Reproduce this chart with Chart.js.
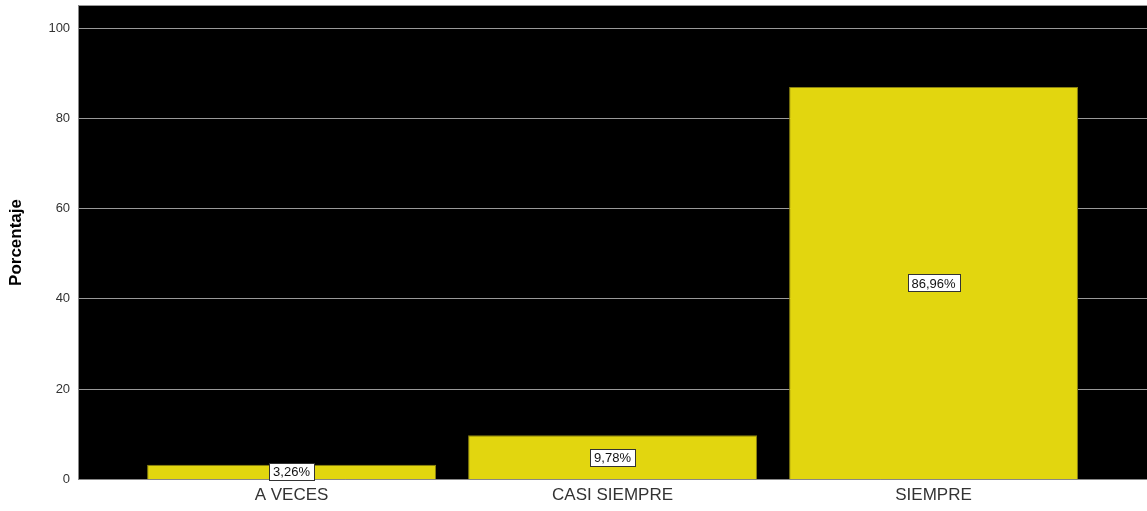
<!DOCTYPE html>
<html>
<head>
<meta charset="utf-8">
<script src="https://cdn.jsdelivr.net/npm/chart.js@4/dist/chart.umd.min.js"></script>
<style>
  html, body { margin: 0; padding: 0; background: #fff; overflow: hidden; }
  #wrap { width: 1147px; height: 516px; margin-top: -5px; }
</style>
</head>
<body>
<div id="wrap"><canvas id="chart"></canvas></div>
<script>
// data
var categories = ["A VECES", "CASI SIEMPRE", "SIEMPRE"];
var percentages = [3.26, 9.78, 86.96];
var yTicks = [0, 20, 40, 60, 80, 100];

// black plot background
var plotBackground = {
  id: "plotBackground",
  beforeDraw: function (chart) {
    var a = chart.chartArea;
    var ctx = chart.ctx;
    ctx.save();
    ctx.fillStyle = "#000";
    ctx.fillRect(a.left, a.top, a.right - a.left, a.bottom - a.top);
    ctx.restore();
  }
};

// boxed value labels in middle of bars
var boxLabels = {
  id: "boxLabels",
  afterDatasetsDraw: function (chart) {
    var ctx = chart.ctx;
    var meta = chart.getDatasetMeta(0);
    ctx.save();
    ctx.font = "13px 'Liberation Sans', Arial, sans-serif";
    ctx.textAlign = "center";
    ctx.textBaseline = "middle";
    meta.data.forEach(function (bar, i) {
      var txt = percentages[i].toFixed(2).replace(".", ",") + "%";
      var cy = (bar.y + bar.base) / 2;
      var w = Math.round(ctx.measureText(txt).width + 8);
      var h = 17;
      var x0 = Math.round(bar.x - w / 2);
      var y0 = Math.round(cy - h / 2);
      ctx.fillStyle = "#fff";
      ctx.fillRect(x0, y0, w, h);
      ctx.strokeStyle = "#333";
      ctx.lineWidth = 1;
      ctx.strokeRect(x0 + 0.5, y0 + 0.5, w, h);
      ctx.fillStyle = "#111";
      ctx.fillText(txt, bar.x, cy + 1);
    });
    ctx.restore();
  }
};

const ctx = document.getElementById("chart").getContext("2d");

const chart = new Chart(ctx, {
  type: "bar",
  data: {
    datasets: [
      {
        data: categories.map(function (c, i) {
          return { x: i, y: percentages[i] };
        }),
        backgroundColor: "#E2D60F",
        borderColor: "#8A8210",
        borderWidth: 1,
        barPercentage: 0.9,
        categoryPercentage: 1.0,
      },
    ],
  },
  options: {
    responsive: true,
    maintainAspectRatio: false,
    animation: false,
    layout: { padding: { top: 0, right: 0, left: 0, bottom: 0 } },
    plugins: {
      legend: { display: false },
      tooltip: { enabled: false },
    },
    scales: {
      x: {
        type: "linear",
        offset: false,
        min: -0.665,
        max: 2.665,
        afterBuildTicks: function (scale) {
          scale.ticks = categories.map(function (c, i) {
            return { value: i };
          });
        },
        grid: { display: false, drawTicks: false },
        border: { color: "#888", width: 1 },
        ticks: {
          padding: 9,
          color: "#333",
          font: { family: "'Liberation Sans', Arial, sans-serif", size: 17, lineHeight: 0.8 },
          callback: function (v) {
            return categories[v];
          },
        },
      },
      y: {
        min: 0,
        max: 105,
        afterBuildTicks: function (scale) {
          scale.ticks = yTicks.map(function (v) {
            return { value: v };
          });
        },
        grid: { color: "#999", lineWidth: 1, drawTicks: false },
        border: { color: "#888", width: 1 },
        ticks: {
          padding: 8,
          color: "#333",
          font: { family: "'Liberation Sans', Arial, sans-serif", size: 13, lineHeight: 0.4 },
        },
        title: {
          display: true,
          text: "Porcentaje",
          color: "#000",
          padding: { top: 6, bottom: 14 },
          font: { family: "'Liberation Sans', Arial, sans-serif", size: 17, weight: "bold" },
        },
      },
    },
  },
  plugins: [plotBackground, boxLabels],
});
</script>
</body>
</html>
